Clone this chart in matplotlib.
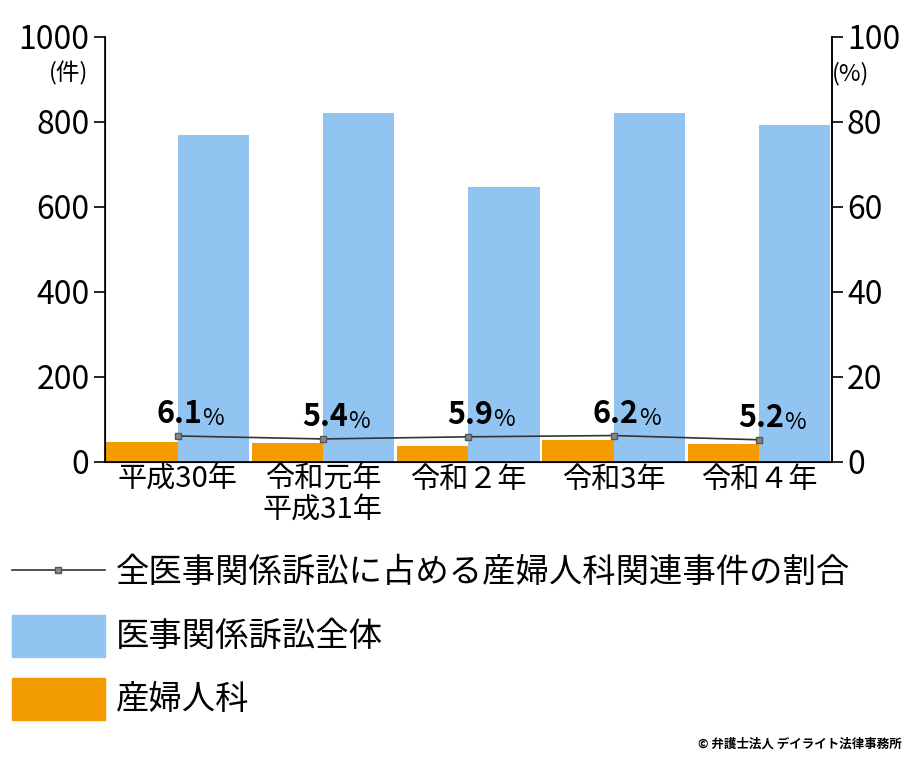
import matplotlib.pyplot as plt
from matplotlib.patches import Rectangle
from matplotlib.lines import Line2D

plt.rcParams["font.family"] = "Noto Sans CJK JP"

years = ["平成30年", "令和元年\n平成31年", "令和２年", "令和3年", "令和４年"]
total = [770, 820, 647, 820, 792]
obgyn = [47, 44, 38, 51, 41]
ratio = [6.1, 5.4, 5.9, 6.2, 5.2]

blue = "#92c4f2"
orange = "#f29c00"

fig = plt.figure(figsize=(9.2, 7.66), dpi=100)
ax = fig.add_axes([0.114, 0.397, 0.79, 0.555])
x = list(range(len(years)))
ax.bar(x, obgyn, width=-0.49, align="edge", color=orange)
ax.bar(x, total, width=0.49, align="edge", color=blue)
ax.set_xlim(-0.5, 4.5)
ax.set_ylim(0, 1000)
ax.set_yticks(range(0, 1001, 200))
ax.set_xticks(x)
ax.set_xticklabels(years, fontsize=21, linespacing=1.05, va="top")
ax.tick_params(axis="x", length=0, pad=2)
ax.tick_params(axis="y", labelsize=23, length=8, width=1.2, direction="out", pad=3)
ax.spines["top"].set_visible(False)
for s in ["left", "right", "bottom"]:
    ax.spines[s].set_linewidth(1.2)

ax2 = ax.twinx()
ax2.set_ylim(0, 100)
ax2.set_yticks(range(0, 101, 20))
ax2.tick_params(axis="y", labelsize=23, length=8, width=1.2, direction="out", pad=3)
ax2.spines["top"].set_visible(False)
ax2.spines["right"].set_linewidth(1.2)
ax2.plot(x, ratio, color="#333333", lw=1.2, marker="s", ms=5,
         mfc="#888888", mec="#555555")
for xi, r in zip(x, ratio):
    ax2.annotate(f"{r}", (xi, r), xytext=(18, 4), textcoords="offset points",
                 ha="right", va="bottom", fontsize=22, fontweight="bold")
    ax2.annotate("%", (xi, r), xytext=(18, 4), textcoords="offset points",
                 ha="left", va="bottom", fontsize=17)

fig.text(0.075, 0.895, "(件)", fontsize=17, ha="center")
fig.text(0.925, 0.895, "(%)", fontsize=17, ha="center")

# legend
ly = 1 - 570 / 766
fig.add_artist(Line2D([0.013, 0.114], [ly, ly], color="#333333", lw=1.2,
                      transform=fig.transFigure))
fig.add_artist(Line2D([0.0635], [ly], marker="s", ms=5, mfc="#888888",
                      mec="#555555", transform=fig.transFigure))
fig.add_artist(Rectangle((0.013, 1 - 657 / 766), 0.101, 42 / 766, color=blue,
                         transform=fig.transFigure))
fig.add_artist(Rectangle((0.013, 1 - 720 / 766), 0.101, 42 / 766, color=orange,
                         transform=fig.transFigure))
labels = ["全医事関係訴訟に占める産婦人科関連事件の割合", "医事関係訴訟全体", "産婦人科"]
for yy, t in zip([572, 636, 700], labels):
    fig.text(0.126, 1 - yy / 766, t, fontsize=24, va="center")
fig.text(0.98, 0.02, "© 弁護士法人 デイライト法律事務所", fontsize=9,
         fontweight="bold", ha="right", va="bottom")

fig.savefig("out.png", dpi=100)
